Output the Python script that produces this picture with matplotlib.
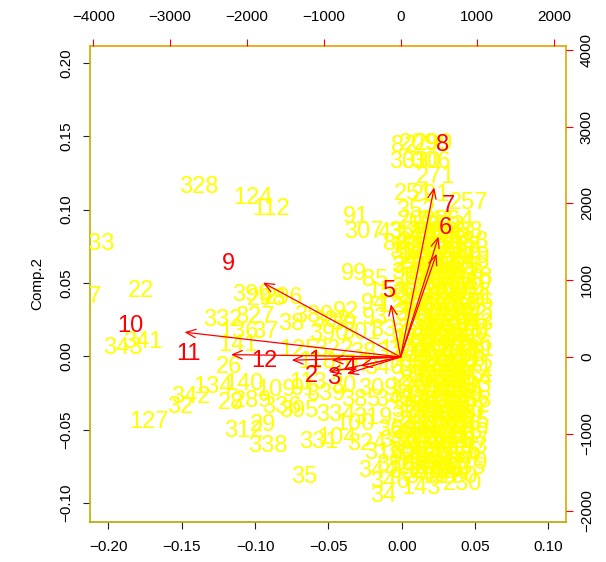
import matplotlib
matplotlib.use("Agg")
import matplotlib.pyplot as plt

plt.rcParams['font.family'] = ['Liberation Sans', 'DejaVu Sans']

# ---- scores (Comp.1, Comp.2) ----
out_lab = ["328", "124", "112", "133", "17", "22", "343", "341", "399", "298", "296",
           "332", "327", "136", "37", "141", "26", "134", "140", "342", "32", "127",
           "28", "289", "109", "91", "336", "395", "312", "29", "338", "331", "104",
           "35", "34", "143", "230"]
out_x = [-0.1385, -0.1016, -0.0893, -0.2094, -0.2135, -0.1780, -0.1903, -0.1766, -0.1023,
         -0.0920, -0.0805, -0.1221, -0.1003, -0.1112, -0.0928, -0.1118, -0.1180, -0.1289,
         -0.1078, -0.1439, -0.1507, -0.1726, -0.1166, -0.1016, -0.0859, -0.0668, -0.0818,
         -0.0702, -0.1080, -0.0948, -0.0914, -0.0566, -0.0443, -0.0662, -0.0123, 0.0130,
         0.0416]
out_y = [0.1153, 0.1078, 0.1003, 0.0764, 0.0402, 0.0443, 0.0055, 0.0095, 0.0416, 0.0389,
         0.0396, 0.0246, 0.0266, 0.0164, 0.0164, 0.0075, -0.0075, -0.0211, -0.0191, -0.0280,
         -0.0348, -0.0450, -0.0321, -0.0307, -0.0232, -0.0225, -0.0348, -0.0375, -0.0512,
         -0.0471, -0.0614, -0.0587, -0.0559, -0.0825, -0.0955, -0.0900, -0.0873]

top_lab = ["82", "209", "299", "303", "310", "306", "271", "251", "291", "257", "352",
           "91", "307", "43", "88", "27", "99", "85", "156", "94", "92", "389", "302"]
top_x = [0.0014, 0.0116, 0.0218, 0.0048, 0.0130, 0.0198, 0.0232, 0.0082, 0.0198, 0.0457,
         0.0095, -0.0314, -0.0259, -0.0075, -0.0041, 0.0027, -0.0327, -0.0184, -0.0102,
         -0.0191, -0.0382, -0.0600, -0.0484]
top_y = [0.1432, 0.1446, 0.1446, 0.1323, 0.1323, 0.1323, 0.1221, 0.1105, 0.1098, 0.1043,
         0.0989, 0.0948, 0.0846, 0.0839, 0.0764, 0.0614, 0.0559, 0.0518, 0.0436, 0.0355,
         0.0300, 0.0273, 0.0239]

mid_lab = ["38", "390", "39", "301", "93", "337", "126", "125", "118", "322", "107", "383",
           "340", "121", "113", "339", "30", "385", "309", "345", "334", "100", "319", "36",
           "324", "316", "330", "344", "318", "346"]
mid_x = [-0.075, -0.050, -0.040, -0.028, -0.018, -0.008, -0.003, -0.070, -0.058, -0.046,
         -0.034, -0.022, -0.012, -0.002, -0.064, -0.052, -0.040, -0.028, -0.016, -0.005,
         -0.045, -0.032, -0.020, -0.008, -0.024, -0.012, -0.002, -0.016, -0.004, -0.008]
mid_y = [0.022, 0.015, 0.022, 0.016, 0.026, 0.018, 0.034, 0.004, -0.004, 0.004, -0.006,
         0.002, -0.008, 0.004, -0.018, -0.026, -0.020, -0.030, -0.022, -0.030, -0.040,
         -0.046, -0.042, -0.050, -0.060, -0.066, -0.058, -0.078, -0.074, -0.086]

# dense cloud, row by row: (Comp.2, [Comp.1 ...], [labels ...])
cloud_rows = [
    (0.092, [0.010, 0.024, 0.036], ["202", "311", "264"]),
    (0.0885, [0.017, 0.030], ["157", "222"]),
    (0.085, [0.004, 0.017, 0.030, 0.042], ["355", "248", "173", "268"]),
    (0.0815, [0.010, 0.024, 0.037], ["174", "290", "241"]),
    (0.078, [0.011, 0.023, 0.036, 0.046], ["286", "219", "358", "188"]),
    (0.0745, [0.005, 0.017, 0.029, 0.041], ["165", "270", "304", "213"]),
    (0.071, [0.005, 0.018, 0.030, 0.041], ["313", "240", "277", "196"]),
    (0.0675, [0.011, 0.024, 0.036, 0.047], ["185", "363", "228", "279"]),
    (0.064, [0.012, 0.024, 0.036, 0.047], ["259", "362", "184", "245"]),
    (0.0605, [0.006, 0.018, 0.030, 0.042], ["320", "201", "255", "371"]),
    (0.057, [0.006, 0.019, 0.031, 0.043], ["373", "208", "295", "226"]),
    (0.0535, [0.012, 0.025, 0.037, 0.049], ["191", "232", "347", "278"]),
    (0.050, [0.013, 0.025, 0.037, 0.048], ["281", "167", "253", "380"]),
    (0.0465, [0.006, 0.019, 0.031, 0.043], ["357", "215", "288", "170"]),
    (0.043, [0.007, 0.020, 0.032, 0.044], ["305", "236", "199", "274"]),
    (0.0395, [0.013, 0.025, 0.038, 0.050], ["246", "314", "182", "261"]),
    (0.036, [0.014, 0.026, 0.038, 0.049], ["217", "348", "263", "186"]),
    (0.0325, [0.006, 0.019, 0.031, 0.044], ["364", "204", "275", "237"]),
    (0.029, [0.008, 0.020, 0.033, 0.045], ["367", "229", "284", "192"]),
    (0.0255, [0.013, 0.026, 0.038, 0.050], ["159", "353", "216", "282"]),
    (0.022, [0.015, 0.027, 0.039, 0.050], ["258", "176", "315", "243"]),
    (0.0185, [0.010, 0.022, 0.034, 0.046], ["325", "194", "252", "369"]),
    (0.015, [0.006, 0.021, 0.033, 0.046], ["398", "266", "203", "350"]),
    (0.0115, [0.007, 0.019, 0.031, 0.043], ["171", "308", "234", "273"]),
    (0.008, [0.013, 0.026, 0.038, 0.049], ["231", "287", "169", "256"]),
    (0.0045, [0.004, 0.026, 0.038, 0.050], ["376", "207", "293", "181"]),
    (0.001, [0.007, 0.020, 0.032, 0.044], ["374", "212", "297", "238"]),
    (-0.0025, [0.008, 0.020, 0.032, 0.044], ["247", "335", "163", "218"]),
    (-0.006, [0.014, 0.026, 0.038, 0.049], ["183", "269", "354", "221"]),
    (-0.0095, [0.012, 0.025, 0.037, 0.049], ["365", "200", "285", "172"]),
    (-0.013, [0.006, 0.019, 0.031, 0.043], ["326", "244", "178", "283"]),
    (-0.0165, [0.012, 0.025, 0.037, 0.049], ["224", "368", "190", "254"]),
    (-0.020, [0.013, 0.025, 0.037, 0.048], ["260", "195", "361", "233"]),
    (-0.0235, [0.007, 0.019, 0.031, 0.043], ["177", "306", "223", "294"]),
    (-0.027, [0.005, 0.018, 0.030, 0.042], ["317", "272", "206", "249"]),
    (-0.0305, [0.012, 0.024, 0.036, 0.048], ["375", "210", "262", "168"]),
    (-0.034, [0.012, 0.024, 0.036, 0.047], ["189", "356", "227", "292"]),
    (-0.0375, [0.006, 0.019, 0.031, 0.043], ["321", "187", "249", "360"]),
    (-0.041, [0.006, 0.018, 0.030, 0.042], ["371", "214", "265", "180"]),
    (-0.0445, [0.012, 0.024, 0.036, 0.047], ["239", "166", "372", "225"]),
    (-0.048, [0.012, 0.024, 0.036, 0.046], ["250", "301", "239", "366"]),
    (-0.0515, [0.006, 0.018, 0.030, 0.042], ["284", "357", "179", "243"]),
    (-0.055, [0.005, 0.017, 0.029, 0.041], ["323", "198", "276", "211"]),
    (-0.0585, [0.011, 0.023, 0.035, 0.046], ["370", "236", "161", "287"]),
    (-0.062, [0.011, 0.023, 0.035, 0.045], ["285", "242", "359", "193"]),
    (-0.0655, [0.005, 0.017, 0.029, 0.041], ["209", "377", "251", "175"]),
    (-0.069, [0.004, 0.016, 0.028, 0.040], ["329", "267", "205", "254"]),
    (-0.0725, [0.010, 0.022, 0.034, 0.045], ["162", "294", "219", "379"]),
    (-0.076, [0.010, 0.022, 0.034, 0.044], ["220", "378", "262", "235"]),
    (-0.079, [0.004, 0.020, 0.033], ["333", "248", "186"]),
    (-0.082, [0.016, 0.028, 0.039], ["349", "197", "280"]),
]

# ---- loadings (label positions on the top / right scale) ----
var_lab = ["1", "2", "3", "4", "5", "6", "7", "8", "9", "10", "11", "12"]
var_x = [-1120, -1159, -872, -651, -156, 586, 618, 547, -2240, -3516, -2760, -1771]
var_y = [-52, -247, -273, -143, 859, 1680, 1960, 2760, 1211, 404, 39, -52]

W, H = 606, 562
fig = plt.figure(figsize=(W / 100, H / 100), dpi=100)
rect = [90 / W, 1 - 522 / H, 476 / W, 476 / H]
ax = fig.add_axes(rect)
ax2 = fig.add_axes(rect, frameon=False)
ax2.patch.set_alpha(0)

ax.set_xlim(-0.2125, 0.112)
ax.set_ylim(-0.113, 0.2115)
ax2.set_xlim(-4043, 2154)
ax2.set_ylim(-2148, 4049)

fs = 17
yel = '#ffff00'
for lab, x, y in zip(out_lab, out_x, out_y):
    ax.text(x, y, lab, color=yel, fontsize=fs, ha='center', va='center', clip_on=True)
for lab, x, y in zip(top_lab, top_x, top_y):
    ax.text(x, y, lab, color=yel, fontsize=fs, ha='center', va='center', clip_on=True)
for lab, x, y in zip(mid_lab, mid_x, mid_y):
    ax.text(x, y, lab, color=yel, fontsize=fs, ha='center', va='center', clip_on=True)
for y, xs, labs in cloud_rows:
    for x, lab in zip(xs, labs):
        ax.text(x, y, lab, color=yel, fontsize=fs, ha='center', va='center', clip_on=True)

for lab, x, y in zip(var_lab, var_x, var_y):
    ax2.annotate('', xy=(0.8 * x, 0.8 * y), xytext=(0, 0),
                 arrowprops=dict(arrowstyle='->,head_length=0.7,head_width=0.3',
                                 color='red', lw=0.9, shrinkA=0, shrinkB=0))
    ax2.text(x, y, lab, color='red', fontsize=fs, ha='center', va='center')

# axes styling
xt = [-0.20, -0.15, -0.10, -0.05, 0.00, 0.05, 0.10]
yt = [-0.10, -0.05, 0.00, 0.05, 0.10, 0.15, 0.20]
fmt = lambda v: f"{v:.2f}".replace("-", "\u2212")
ax.set_xticks(xt)
ax.set_xticklabels([fmt(v) for v in xt])
ax.set_yticks(yt)
ax.set_yticklabels([fmt(v) for v in yt], rotation=90, va='center')
ax.tick_params(axis='both', direction='out', length=5, width=0.8, color='#222222',
               labelsize=11)
ax.tick_params(axis='x', pad=8)
ax.tick_params(axis='y', pad=7)

t2 = [-4000, -3000, -2000, -1000, 0, 1000, 2000]
r2 = [-2000, -1000, 0, 1000, 2000, 3000, 4000]
ax2.xaxis.tick_top()
ax2.yaxis.tick_right()
ax2.set_xticks(t2)
ax2.set_xticklabels([str(v).replace("-", "\u2212") for v in t2])
ax2.set_yticks(r2)
ax2.set_yticklabels([str(v).replace("-", "\u2212") for v in r2], rotation=90, va='center')
ax2.tick_params(axis='both', direction='out', length=5, width=0.8, color='red',
                labelsize=11)
ax2.tick_params(axis='x', pad=11)
ax2.tick_params(axis='y', pad=5)

ax.spines['left'].set_color('#b8b400')
ax.spines['bottom'].set_color('#b0a800')
ax.spines['top'].set_color('#e8a000')
ax.spines['right'].set_color('#e0a800')
for s in ax.spines.values():
    s.set_linewidth(1.2)

fig.text(37 / W, 1 - 284 / H, 'Comp.2', rotation=90, ha='center', va='center', fontsize=11)

fig.savefig('out.png', dpi=100)
